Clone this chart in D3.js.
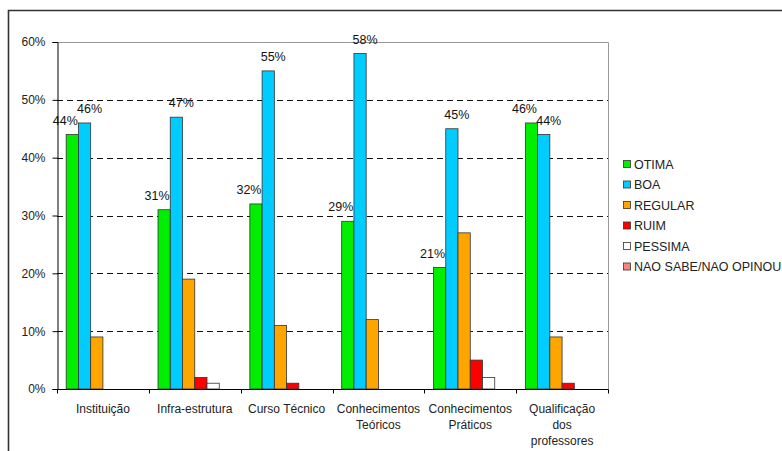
<!DOCTYPE html>
<html><head><meta charset="utf-8">
<script src="https://cdn.jsdelivr.net/npm/d3@7"></script>
<style>
body{margin:0;background:#fff;}
svg{display:block;font-family:"Liberation Sans",Arial,sans-serif;}
</style></head>
<body><svg id="c" width="782" height="451"></svg>
<script>
const categories = [["Instituição"],["Infra-estrutura"],["Curso Técnico"],["Conhecimentos","Teóricos"],["Conhecimentos","Práticos"],["Qualificação","dos","professores"]];
const seriesNames = ["OTIMA","BOA","REGULAR","RUIM","PESSIMA","NAO SABE/NAO OPINOU"];
const seriesColors = ["#00ee00","#00ccff","#ffa500","#ff0000","#ffffff","#ff8080"];
const otima = [44,31,32,29,21,46];
const boa = [46,47,55,58,45,44];
const regular = [9,19,11,12,27,9];
const ruim = [0,2,1,0,5,1];
const pessima = [0,1,0,0,2,0];
const naoSabe = [0,0,0,0,0,0];
const yTicks = [0,10,20,30,40,50,60];
const labelledSeries = [0,1];

const values = [otima,boa,regular,ruim,pessima,naoSabe];
const svg = d3.select("#c");
const L=57,R=608,T=42,B=389;

// outer frame
svg.append("path").attr("d","M8.5,451 V10.5 H782").attr("fill","none").attr("stroke","#333").attr("stroke-width",1.6);

const x = d3.scaleBand().domain(d3.range(categories.length)).range([L,R]).padding(0);
const y = d3.scaleLinear().domain([0,60]).range([B,T]);
const bw = x.bandwidth()/7.5;
const x1 = d3.scaleBand().domain(d3.range(seriesNames.length)).range([0.75*bw, 6.75*bw]).padding(0);

// gridlines
svg.append("g").selectAll("line").data(yTicks.filter(t=>t>0&&t<60)).join("line")
 .attr("x1",L).attr("x2",R).attr("y1",d=>Math.round(y(d))+0.5).attr("y2",d=>Math.round(y(d))+0.5)
 .attr("stroke","#111").attr("stroke-dasharray","6,4").attr("stroke-width",1);
svg.append("path").attr("d",`M${L},${y(60)+0.5} H${R+0.5} V${B}`).attr("fill","none").attr("stroke","#999").attr("stroke-width",1);

// bars
const g = svg.append("g");
values.forEach((arr,s)=>{
  g.selectAll(null).data(arr.map((v,i)=>({v,i}))).join("rect")
   .filter(d=>d.v>0)
   .attr("x",d=>x(d.i)+x1(s)).attr("width",x1.bandwidth())
   .attr("y",d=>y(d.v)).attr("height",d=>B-y(d.v))
   .attr("fill",seriesColors[s]).attr("stroke","#333").attr("stroke-width",0.8);
});

// labels
const dxs=[-7,5];
labelledSeries.forEach((s,k)=>{
  svg.append("g").selectAll("text").data(values[s].map((v,i)=>({v,i}))).join("text")
   .attr("x",d=>x(d.i)+x1(s)+x1.bandwidth()/2+dxs[k]).attr("y",d=>y(d.v)-10)
   .attr("text-anchor","middle").attr("font-size",12.5).attr("fill","#111")
   .text(d=>d.v+"%");
});

// y axis
const ya = svg.append("g").attr("transform",`translate(${L+0.5},0)`)
 .call(d3.axisLeft(y).tickValues(yTicks).tickFormat(d=>d+"%").tickSize(5).tickPadding(7));
ya.select(".domain").attr("stroke","#000");
ya.selectAll(".tick line").attr("stroke","#000");
ya.selectAll("text").attr("font-size",12).attr("fill","#222").attr("font-family","Liberation Sans, Arial");

// x axis
const xa = svg.append("g").attr("transform",`translate(0,${B+0.5})`);
xa.append("line").attr("x1",L).attr("x2",R+0.5).attr("stroke","#000");
xa.selectAll("line.t").data(d3.range(categories.length+1)).join("line").attr("class","t")
 .attr("x1",i=>Math.round(L+i*x.bandwidth())+0.5).attr("x2",i=>Math.round(L+i*x.bandwidth())+0.5)
 .attr("y1",0).attr("y2",4).attr("stroke","#000");
const ct = xa.selectAll("text").data(categories.map((c,i)=>({c,i}))).join("text")
 .attr("text-anchor","middle").attr("font-size",12).attr("fill","#222")
 .attr("x",d=>x(d.i)+x.bandwidth()/2).attr("y",23);
ct.selectAll("tspan").data(d=>d.c.map(t=>({t,x:x(d.i)+x.bandwidth()/2}))).join("tspan")
 .attr("x",d=>d.x).attr("dy",(d,j)=>j===0?0:16).text(d=>d.t);

// legend
const lg = svg.append("g").attr("transform","translate(623,164)");
seriesNames.forEach((n,i)=>{
  const r = lg.append("g").attr("transform",`translate(0,${i*20.5})`);
  r.append("rect").attr("x",0.5).attr("y",-3.5).attr("width",7).attr("height",7)
   .attr("fill",seriesColors[i]).attr("stroke","#333").attr("stroke-width",0.8);
  r.append("text").attr("x",11).attr("y",4.5).attr("font-size",12.5).attr("fill","#222").text(n);
});
</script></body></html>
